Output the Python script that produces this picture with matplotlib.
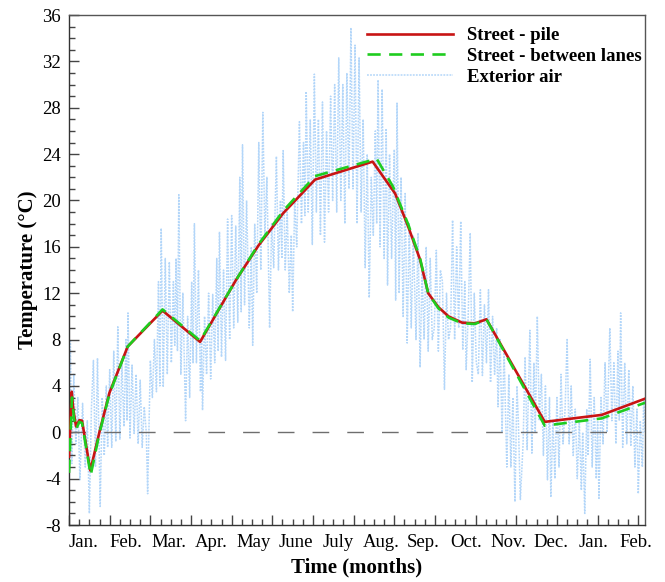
import matplotlib.pyplot as plt
import matplotlib.transforms as mtransforms
import numpy as np

plt.rcParams['font.family'] = ['Liberation Serif', 'DejaVu Serif']
plt.rcParams['axes.unicode_minus'] = False

# month labels
months = ['Jan.', 'Feb.', 'Mar.', 'Apr.', 'May', 'June', 'July', 'Aug.',
          'Sep.', 'Oct.', 'Nov.', 'Dec.', 'Jan.', 'Feb.']

# street - pile (day, temperature)
pile_day = [0, 2, 3.2, 5.2, 7.6, 9.6, 15.7, 22.4, 29.8, 43.3, 69, 96.7, 123,
            139.7, 158, 181.5, 224, 240.6, 250.4, 259, 265, 272.5, 280, 290,
            299.6, 308, 351, 393, 425]
pile_temp = [-2.1, 3.5, 1.9, 0.5, 1.05, 1.0, -3.3, 0.0, 3.4, 7.4, 10.5, 7.8,
             13.1, 16.1, 18.9, 21.8, 23.35, 20.6, 17.7, 14.9, 12.0, 10.8, 10.0,
             9.46, 9.4, 9.75, 0.9, 1.5, 2.9]

# street - between lanes
lanes_day = [0, 2.2, 3.6, 5.4, 7.6, 9.6, 16, 22.4, 29.8, 43.3, 69, 96.7, 123,
             139.7, 158, 181.5, 227, 239, 250.4, 259, 265, 272.5, 280, 290,
             299.6, 308, 351, 393, 425]
lanes_temp = [-3.5, 3.0, 1.2, 0.3, 0.9, 0.8, -3.7, -0.1, 3.3, 7.4, 10.6, 7.9,
              13.1, 16.2, 19.1, 22.1, 23.6, 21.2, 17.9, 15.0, 12.0, 10.7, 9.9,
              9.4, 9.35, 9.75, 0.57, 1.2, 2.55]

# exterior air (peaks and troughs)
air_day = [0, 1, 2, 3.5, 5, 6.5, 8, 10, 12, 13.5, 15, 16.5, 18, 19.5, 21, 23,
           24.5, 26, 27.5, 28.5, 30, 31.5, 33, 34.5, 36, 37.5, 39, 40.5, 42,
           42.8, 43.5, 45, 46.5, 48, 49.5, 51, 52.5, 54, 55.5, 57, 58, 60,
           61.5, 63, 64.5, 66, 67, 68, 69.5, 71, 72.5, 74, 75.5, 77, 78, 79,
           80, 81, 82.5, 84, 86, 87.5, 89, 90.5, 91.5, 92.5, 94, 95.5, 97,
           97.8, 98.5, 100, 101.5, 103, 104.5, 106, 107.5, 109, 110, 111,
           112.5, 114, 115.5, 117, 118.5, 120, 121.5, 123, 124.5, 126, 127,
           128, 129.5, 131, 133, 134.5, 135.5, 137, 138.5, 140, 141.5, 143,
           144.5, 146, 148, 149.5, 151, 153, 154.5, 156, 157, 158, 159.5, 161,
           162.5, 164, 165, 166.5, 168, 170, 171.5, 173, 174, 175, 176.5, 178,
           179.5, 181, 182.5, 184, 185.5, 187, 188.5, 190, 191.5, 193, 194.5,
           196, 197.5, 199, 200.5, 202, 203.5, 205, 206.5, 208, 209.5, 211,
           212.5, 214, 215.5, 217, 218.5, 220, 221.5, 223, 224.5, 226, 227,
           228, 229.5, 231, 232.5, 234, 235, 236.5, 238, 240, 241, 242, 243.5,
           245, 246.5, 248, 249.5, 251, 252.5, 254, 256, 257.5, 259, 260.5,
           262, 263.5, 265, 266.5, 268, 269.5, 271, 272.5, 274, 275.5, 277,
           278.5, 280, 281.5, 283, 284.5, 286, 287.5, 289, 290.5, 292, 293,
           294.5, 296, 297.5, 299, 300.5, 302, 303.5, 305, 306.5, 308, 309.5,
           311, 312.5, 314, 315.5, 316.5, 318, 319.5, 321, 323, 324.5, 326,
           327.5, 329, 330.5, 331.5, 333, 335, 336.5, 338, 340, 341.5, 343,
           344, 345.5, 347, 348.5, 350, 351.5, 353, 354.5, 355.5, 357, 358.5,
           360, 361.5, 363, 364.5, 366, 367.5, 369, 370.5, 372, 373.5, 375,
           376.5, 378, 379, 380.5, 382, 383, 384.5, 386, 387.5, 389, 390, 391,
           392.5, 394, 395.5, 397, 399, 400.5, 402, 403.5, 405, 406, 407,
           408.5, 410, 411.5, 413, 414.5, 416, 417.5, 419, 420, 421.5, 423,
           424, 425]
air_temp = [2, 8, -2.7, 5, -1, 3, -4.1, 2.5, -3, 1, -7, 2, 6.2, -3, 6.4, -6.4,
            3, -2, 4, -1.3, 5.4, -1.3, 7, -0.8, 9.1, -0.6, 6, 0.5, 8, 1, 10.3,
            -0.5, 5.8, -0.1, 5, -1, 4.5, -1.3, 2.2, 0, -5.3, 6.2, 3, 8, 3.5,
            13, 4, 17.6, 3.9, 15, 5, 14.7, 6, 13, 7.5, 15, 7, 20.5, 5, 12, 1,
            10, 3, 13, 6, 18, 6, 14, 3.5, 8, 1.9, 10, 5, 12, 4.6, 11.9, 6, 15,
            7, 17.3, 6.5, 14, 6.2, 18.4, 8, 18.7, 9, 17.8, 9.5, 22, 10.4, 24.8,
            11, 20, 9, 16, 7.5, 18, 12, 25, 14, 27.6, 17, 22, 9, 18, 14.2,
            23.8, 14, 20, 15, 24.3, 14, 19, 12, 17, 10.4, 20, 16, 26.8, 18, 25,
            18.7, 29.4, 19, 27, 16.2, 30.9, 19, 27, 17, 28.5, 16.4, 26, 19, 29,
            20, 30, 19, 32.3, 20, 30, 18, 31, 21, 34.9, 21, 33.4, 18, 32.3, 19,
            27, 14.2, 24, 11.6, 22, 17, 26, 18, 30.4, 16, 29.6, 15, 26.2, 12.7,
            24, 15, 24.4, 11.4, 28.4, 12, 22, 10, 20.6, 7.7, 18, 9, 17, 8,
            17.2, 5.6, 14, 8, 16, 7, 15, 8, 9, 15.7, 7, 14, 13, 3.7, 12, 8, 9,
            18.3, 8, 16, 9, 18.2, 7.1, 13, 5.4, 10, 17.2, 4.3, 12, 6, 5, 12.3,
            4.9, 11, 6, 12.3, 4.3, 10, 5, 9, 2.2, 8, 0, 7, -3, 5, -3, 3, -6,
            4, 1, -5.8, -1, 6.5, -1.5, 8.8, -1.8, 6, 0, 10, 1, 5, -2, 4, -4.1,
            3, -5.6, 1, -4, 3, -3, 5, -1, 2, 8, -1, 4, -2, 2, -4, 1, -5, 0, -7,
            2, -2, 6.3, -3, 3, -4, 1, -5.7, 3, -1, 6, 0, 9, 1, 6, -1, 7, 1,
            10.3, -1.3, 6, -1, 5.4, -1.2, 4, -3, 2, -5.3, 1, -3, 2.8, 0]

fig = plt.figure(figsize=(6.65, 5.82), dpi=100)
ax = fig.add_axes([0.1038, 0.0979, 0.8662, 0.8763])

ax.plot(air_day, air_temp, color='#b3d6f9', lw=1.1, ls=(0, (1.2, 0.8)),
        label='Exterior air', zorder=1)
ax.axhline(0, color='#6e6e6e', lw=1.0, dashes=(12, 13), zorder=2)
ax.plot(pile_day, pile_temp, color='#c81414', lw=1.9, label='Street - pile',
        zorder=3)
ax.plot(lanes_day, lanes_temp, color='#1fcc1f', lw=1.9, dashes=(5, 3.2),
        label='Street - between lanes', zorder=4)

ax.set_xlim(0, 425)
ax.set_ylim(-8, 36)
ax.set_yticks(np.arange(-8, 37, 4))
ax.set_yticks(np.arange(-8, 37, 1), minor=True)
ax.set_xticks(np.arange(0, 426, 30))
ax.set_xticks(np.arange(0, 426, 7.5), minor=True)
ax.set_xticklabels([])
ax.tick_params(axis='both', which='major', direction='in', length=7,
               width=1.0, color='#444444', labelsize=13.5)
ax.tick_params(axis='both', which='minor', direction='in', length=4,
               width=1.0, color='#444444')
ax.tick_params(axis='y', pad=6)

trans = mtransforms.blended_transform_factory(ax.transData, ax.transAxes)
for x, m in zip(np.linspace(11, 418, len(months)), months):
    ax.text(x, -0.018, m, transform=trans, ha='center', va='top',
            fontsize=13.5)

for s in ax.spines.values():
    s.set_color('#555555')
    s.set_linewidth(1.0)
ax.spines['left'].set_color('#333333')
ax.spines['bottom'].set_color('#333333')

ax.set_xlabel('Time (months)', fontsize=15, fontweight='bold', labelpad=20)
ax.set_ylabel('Temperature (\u00b0C)', fontsize=15, fontweight='bold',
              labelpad=3)

h, l = ax.get_legend_handles_labels()
order = [1, 2, 0]
leg = ax.legend([h[i] for i in order], [l[i] for i in order],
                loc='upper right', bbox_to_anchor=(1.0, 0.982),
                frameon=False, handlelength=4.6, handletextpad=0.75,
                labelspacing=0.2, borderaxespad=0.1, borderpad=0.05,
                prop={'size': 13.5, 'weight': 'bold'})

fig.savefig('out.png', dpi=100)
